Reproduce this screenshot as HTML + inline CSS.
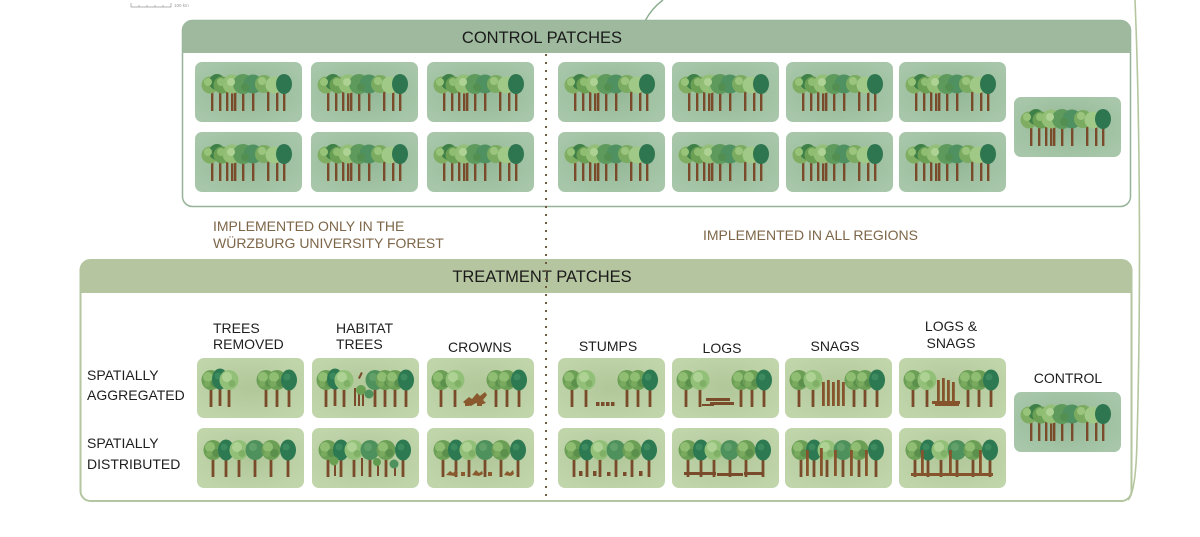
<!DOCTYPE html>
<html><head><meta charset="utf-8"><style>html,body{margin:0;padding:0;background:#fff;width:1200px;height:537px;overflow:hidden}</style></head>
<body>
<svg width="1200" height="537" viewBox="0 0 1200 537" xmlns="http://www.w3.org/2000/svg" xmlns:xlink="http://www.w3.org/1999/xlink" font-family="Liberation Sans, Arial, sans-serif">
<defs>
<radialGradient id="cg" cx="50%" cy="50%" r="60%"><stop offset="0" stop-color="#92b795"/><stop offset="1" stop-color="#a8c7aa"/></radialGradient>
<radialGradient id="tg" cx="50%" cy="50%" r="60%"><stop offset="0" stop-color="#b0c799"/><stop offset="1" stop-color="#c1d5ab"/></radialGradient>
<g id="tA"><rect x="-1.4" y="4" width="2.8" height="23" fill="#7a4b2b"/><ellipse rx="9.5" ry="10" fill="#6c9f56"/><circle cx="-3" cy="-3" r="5" fill="#8fbd72"/><circle cx="3.5" cy="3" r="4" fill="#5a8f4c"/><circle cx="-4" cy="4" r="3" fill="#79aa5e"/></g>
<g id="tB"><rect x="-1.4" y="4" width="2.8" height="23" fill="#7a4b2b"/><ellipse rx="9.5" ry="10" fill="#93c079"/><circle cx="-2" cy="-3" r="5" fill="#aed294"/><circle cx="3" cy="3.5" r="3.5" fill="#7fb066"/></g>
<g id="tC"><rect x="-1.4" y="4" width="2.8" height="23" fill="#7a4b2b"/><ellipse rx="9.5" ry="10" fill="#4f915c"/><circle cx="-2" cy="-3" r="4" fill="#62a06a"/></g>
<g id="tD"><rect x="-1.4" y="4" width="2.8" height="23" fill="#7a4b2b"/><ellipse rx="8" ry="10.5" fill="#2d7a52"/><circle cx="-2" cy="-3" r="3.5" fill="#3c8a5e"/></g>
<g id="ctile">
<rect width="107" height="60" rx="7" fill="url(#cg)"/>
<g fill="#7a4b2b"><rect x="16" y="29" width="2.4" height="20"/><rect x="24" y="29" width="2.4" height="20"/><rect x="31" y="29" width="2.4" height="20"/><rect x="36" y="29" width="2.4" height="20"/><rect x="39" y="29" width="2.4" height="20"/><rect x="47" y="29" width="2.4" height="20"/><rect x="57" y="29" width="2.4" height="20"/><rect x="72" y="29" width="2.4" height="20"/><rect x="81" y="29" width="2.4" height="20"/><rect x="88" y="29" width="2.4" height="20"/></g>
<circle cx="15" cy="23" r="8.5" fill="#7fae62"/><circle cx="22" cy="20" r="8" fill="#3f8048"/><circle cx="27" cy="23" r="8.5" fill="#6a9f54"/><circle cx="37" cy="22" r="9.5" fill="#93bf76"/><circle cx="48" cy="22" r="10" fill="#5e9a5c"/><circle cx="58" cy="22" r="9.5" fill="#4f9160"/><circle cx="69" cy="22" r="9" fill="#7aab60"/><circle cx="79" cy="23" r="8.5" fill="#a0c887"/><ellipse cx="89" cy="22" rx="8" ry="10" fill="#2e7650"/>
<circle cx="13" cy="20" r="4" fill="#98c47a"/><circle cx="26" cy="20" r="4" fill="#8fbd72"/><circle cx="67" cy="19" r="4" fill="#9bc57e"/><circle cx="36" cy="20" r="4" fill="#aed294"/><circle cx="50" cy="25" r="4" fill="#548f52"/>
</g>
<g id="L3"><use xlink:href="#tA" x="14" y="22"/><use xlink:href="#tD" x="23" y="21"/><use xlink:href="#tB" x="32" y="22"/></g>
<g id="L2"><use xlink:href="#tA" x="14" y="22"/><use xlink:href="#tB" x="28" y="22"/></g>
<g id="R3"><use xlink:href="#tA" x="69" y="22"/><use xlink:href="#tA" x="80" y="22"/><use xlink:href="#tD" x="92" y="22"/></g>
<g id="D6"><use xlink:href="#tA" x="16" y="22"/><use xlink:href="#tD" x="29" y="22"/><use xlink:href="#tB" x="42" y="22"/><use xlink:href="#tC" x="58" y="22"/><use xlink:href="#tA" x="74" y="22"/><use xlink:href="#tD" x="91" y="22"/></g>
<rect id="tbg" width="107" height="60" rx="7" fill="url(#tg)"/>
</defs>

<!-- scale bar -->
<g stroke="#999" stroke-width="0.7" fill="none"><path d="M131,3 V7 H171 V3 M139,5 V7 M147,5 V7 M155,5 V7 M163,5 V7"/></g>
<text x="174" y="7" font-size="4.5" fill="#999">100 km</text>

<!-- connector lines -->
<path d="M645,21 Q652,8 663,0" fill="none" stroke="#8fae90" stroke-width="1.5"/>
<path d="M1135,0 C1140,120 1141,300 1137,440 Q1136,492 1128,500" fill="none" stroke="#b5c69f" stroke-width="1.6"/>

<!-- control box -->
<rect x="182.5" y="20.5" width="948" height="186" rx="10" fill="#fff" stroke="#95b398" stroke-width="1.5"/>
<path d="M182.5,53 V30.5 Q182.5,20.5 192.5,20.5 H1120.5 Q1130.5,20.5 1130.5,30.5 V53 Z" fill="#9eb99e"/>
<text x="542" y="43" font-size="16.5" text-anchor="middle" fill="#1a1a1a">CONTROL PATCHES</text>

<g>
<use xlink:href="#ctile" x="195" y="62"/><use xlink:href="#ctile" x="311" y="62"/><use xlink:href="#ctile" x="427" y="62"/>
<use xlink:href="#ctile" x="558" y="62"/><use xlink:href="#ctile" x="672" y="62"/><use xlink:href="#ctile" x="786" y="62"/><use xlink:href="#ctile" x="899" y="62"/>
<use xlink:href="#ctile" x="195" y="132"/><use xlink:href="#ctile" x="311" y="132"/><use xlink:href="#ctile" x="427" y="132"/>
<use xlink:href="#ctile" x="558" y="132"/><use xlink:href="#ctile" x="672" y="132"/><use xlink:href="#ctile" x="786" y="132"/><use xlink:href="#ctile" x="899" y="132"/>
<use xlink:href="#ctile" x="1014" y="97"/>
</g>

<!-- brown labels -->
<g font-size="14" fill="#7d6648">
<text x="213" y="231">IMPLEMENTED ONLY IN THE</text>
<text x="213" y="248">WÜRZBURG UNIVERSITY FOREST</text>
<text x="703" y="240">IMPLEMENTED IN ALL REGIONS</text>
</g>

<!-- treatment box -->
<rect x="80.5" y="260" width="1051" height="241" rx="10" fill="#fff" stroke="#b3c69f" stroke-width="2"/>
<path d="M80.5,293 V270 Q80.5,260 90.5,260 H1121.5 Q1131.5,260 1131.5,270 V293 Z" fill="#b5c59f"/>
<text x="542" y="282" font-size="16.5" text-anchor="middle" fill="#1a1a1a">TREATMENT PATCHES</text>

<g font-size="14" fill="#1e1e1e">
<text x="213" y="333">TREES</text><text x="213" y="349">REMOVED</text>
<text x="336" y="333">HABITAT</text><text x="336" y="349">TREES</text>
<text x="448" y="352">CROWNS</text>
<text x="608" y="351" text-anchor="middle">STUMPS</text>
<text x="722" y="353" text-anchor="middle">LOGS</text>
<text x="835" y="351" text-anchor="middle">SNAGS</text>
<text x="951" y="331" text-anchor="middle">LOGS &amp;</text><text x="951" y="348" text-anchor="middle">SNAGS</text>
<text x="1068" y="383" text-anchor="middle">CONTROL</text>
<text x="87" y="380">SPATIALLY</text><text x="87" y="400">AGGREGATED</text>
<text x="87" y="448">SPATIALLY</text><text x="87" y="469">DISTRIBUTED</text>
</g>

<!-- treatment tiles row 1 (aggregated) -->
<g transform="translate(197,358)"><use xlink:href="#tbg"/><use xlink:href="#L3"/><use xlink:href="#R3"/></g>
<g transform="translate(312,358)"><use xlink:href="#tbg"/><use xlink:href="#L3"/>
 <g fill="#7a4b2b"><rect x="42" y="30" width="2" height="18"/><rect x="46" y="28" width="2" height="20"/><rect x="50" y="31" width="2" height="17"/><path d="M46,20 l3,-6 l1.8,1 l-3,6z"/></g>
 <circle cx="49" cy="32" r="5" fill="#6aa052"/><circle cx="57" cy="36" r="4.5" fill="#4f915c"/>
 <use xlink:href="#tC" x="63" y="22"/><use xlink:href="#tA" x="73" y="22"/><use xlink:href="#tA" x="83" y="22"/><use xlink:href="#tD" x="94" y="22"/></g>
<g transform="translate(427,358)"><use xlink:href="#tbg"/><use xlink:href="#L2"/><use xlink:href="#R3"/>
 <g fill="#8a5a2e"><path d="M36,44 l6,-5 l3,2 l5,-6 l3,3 l5,-4 l2,3 l-4,5 l3,3 l-6,2 l-4,-2 l-5,3 l-4,-1z"/><rect x="38" y="45" width="4" height="3"/><rect x="50" y="45" width="5" height="3"/></g></g>
<g transform="translate(558,358)"><use xlink:href="#tbg"/><use xlink:href="#L2"/><use xlink:href="#R3"/>
 <g fill="#7a4b2b"><rect x="38" y="44" width="3.5" height="4"/><rect x="43" y="44" width="3.5" height="4"/><rect x="48" y="44" width="3.5" height="4"/><rect x="53" y="44" width="3.5" height="4"/></g></g>
<g transform="translate(672,358)"><use xlink:href="#tbg"/><use xlink:href="#L2"/><use xlink:href="#R3"/>
 <g fill="#7a4b2b"><rect x="34" y="40" width="24" height="3"/><rect x="38" y="44" width="24" height="3"/><rect x="30" y="46" width="12" height="2"/></g></g>
<g transform="translate(785,358)"><use xlink:href="#tbg"/><use xlink:href="#L2"/><use xlink:href="#R3"/>
 <g fill="#86542c"><rect x="37" y="24" width="2.8" height="24"/><rect x="42" y="22" width="2.8" height="26"/><rect x="47" y="24" width="2.8" height="24"/><rect x="52" y="22" width="2.8" height="26"/><rect x="57" y="24" width="2.8" height="24"/></g></g>
<g transform="translate(899,358)"><use xlink:href="#tbg"/><use xlink:href="#L2"/><use xlink:href="#R3"/>
 <g fill="#86542c"><rect x="38" y="22" width="2.8" height="26"/><rect x="43" y="20" width="2.8" height="28"/><rect x="48" y="22" width="2.8" height="26"/><rect x="53" y="24" width="2.8" height="24"/><rect x="33" y="43" width="28" height="3"/><rect x="36" y="46" width="24" height="2"/></g></g>

<!-- treatment tiles row 2 (distributed) -->
<g transform="translate(197,428)"><use xlink:href="#tbg"/><use xlink:href="#D6"/></g>
<g transform="translate(312,428)"><use xlink:href="#tbg"/><use xlink:href="#D6"/>
 <g fill="#7a4b2b"><rect x="22" y="32" width="2" height="16"/><rect x="49" y="30" width="2" height="18"/><rect x="65" y="32" width="2" height="16"/><rect x="82" y="34" width="2" height="14"/></g>
 <circle cx="22" cy="33" r="4.5" fill="#6aa052"/><circle cx="65" cy="34" r="4" fill="#5f9a4f"/><circle cx="82" cy="36" r="4.5" fill="#4f915c"/></g>
<g transform="translate(427,428)"><use xlink:href="#tbg"/><use xlink:href="#D6"/>
 <g fill="#8a5a2e"><path d="M19,47 l4,-4 l3,2 l3,-3 l2,3 l-3,3z"/><rect x="34" y="44" width="4" height="4"/><path d="M45,47 l4,-5 l3,3 l3,-2 l1,3 l-4,2z"/><rect x="61" y="44" width="4" height="4"/><path d="M77,47 l3,-4 l3,2 l3,-3 l1,4 l-3,2z"/></g></g>
<g transform="translate(558,428)"><use xlink:href="#tbg"/><use xlink:href="#D6"/>
 <g fill="#7a4b2b"><rect x="21" y="43" width="3.5" height="5"/><rect x="35" y="43" width="3.5" height="5"/><rect x="49" y="44" width="3.5" height="4"/><rect x="65" y="44" width="3.5" height="4"/><rect x="81" y="43" width="3.5" height="5"/></g></g>
<g transform="translate(672,428)"><use xlink:href="#tbg"/><use xlink:href="#D6"/>
 <g fill="#7a4b2b"><rect x="12" y="44" width="32" height="3"/><rect x="45" y="45" width="26" height="3"/><rect x="72" y="44" width="20" height="3"/></g></g>
<g transform="translate(785,428)"><use xlink:href="#tbg"/><use xlink:href="#D6"/>
 <g fill="#86542c"><rect x="21" y="22" width="2.8" height="26"/><rect x="35" y="20" width="2.8" height="28"/><rect x="49" y="22" width="2.8" height="26"/><rect x="65" y="22" width="2.8" height="26"/><rect x="80" y="22" width="2.8" height="26"/></g></g>
<g transform="translate(899,428)"><use xlink:href="#tbg"/><use xlink:href="#D6"/>
 <g fill="#86542c"><rect x="22" y="22" width="2.8" height="26"/><rect x="50" y="22" width="2.8" height="26"/><rect x="80" y="22" width="2.8" height="26"/><rect x="12" y="45" width="82" height="3"/></g></g>

<!-- treatment control tile -->
<use xlink:href="#ctile" x="1014" y="392"/>

<!-- dotted divider -->
<line x1="546" y1="54" x2="546" y2="500" stroke="#6e5a3e" stroke-width="2" stroke-dasharray="2 6"/>
</svg>
</body></html>
